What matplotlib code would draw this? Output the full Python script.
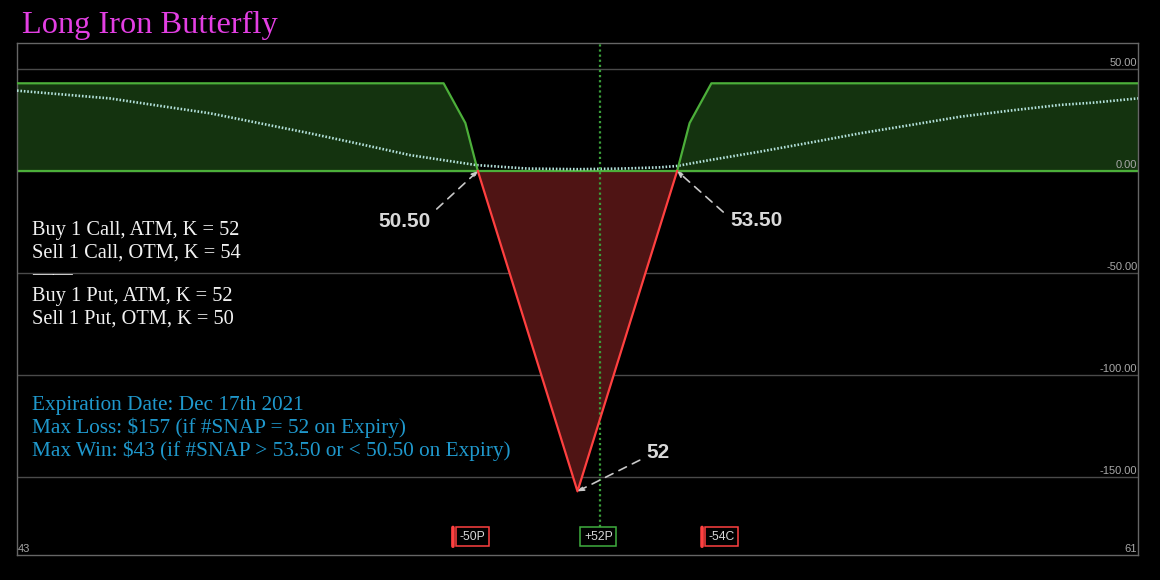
import numpy as np
import matplotlib
matplotlib.use("Agg")
import matplotlib.pyplot as plt

# ---------------- data ----------------
price = np.array([43.0, 49.85, 50.2, 50.4, 52.0, 53.6, 53.8, 54.15, 61.0])
pnl = np.array([43.0, 43.0, 23.5, 0.0, -157.0, 0.0, 23.5, 43.0, 43.0])

tv_price = np.array([43.0, 44.49, 45.30, 46.10, 46.90, 47.70, 48.51, 49.31, 50.38,
                     51.2, 52.0, 52.7, 53.32, 53.59, 54.13, 54.93, 55.73, 56.54,
                     57.34, 58.14, 58.94, 59.75, 60.28, 61.0])
tv_pnl = np.array([39.4, 35.6, 31.9, 28.3, 23.4, 18.5, 13.2, 7.8, 2.9,
                   1.2, 0.9, 1.2, 1.8, 2.45, 5.4, 9.5, 13.9, 18.5,
                   22.5, 26.6, 29.6, 32.4, 33.5, 35.6])

spot = 52.36
yticks = [50, 0, -50, -100, -150]
ytick_labels = ["50.00", "0.00", "-50.00", "-100.00", "-150.00"]
x_min_label, x_max_label = "43", "61"

legs_strike = [50, 52, 54]
legs_label = ["-50P", "+52P", "-54C"]
legs_side = ["short", "long", "short"]

be_labels = ["50.50", "53.50", "52"]

title = "Long Iron Butterfly"
legs_text = ["Buy 1 Call, ATM, K = 52",
             "Sell 1 Call, OTM, K = 54",
             "\u2014\u2014",
             "Buy 1 Put, ATM, K = 52",
             "Sell 1 Put, OTM, K = 50"]
info_text = ["Expiration Date: Dec 17th 2021",
             "Max Loss: $157 (if #SNAP = 52 on Expiry)",
             "Max Win: $43 (if #SNAP > 53.50 or < 50.50 on Expiry)"]

# ---------------- style ----------------
W, H = 1160, 580
GREEN = "#4caf3a"
GREEN_FILL = "#14330f"
RED = "#ff4040"
RED_FILL = "#4f1414"
DOT = "#b4e2dc"
GRID = "#4a4a4a"
FRAME = "#666666"
SERIF = ["Liberation Serif", "DejaVu Serif"]
SANS = ["Liberation Sans", "DejaVu Sans"]

fig = plt.figure(figsize=(W / 100, H / 100), dpi=100, facecolor="black")
ax = fig.add_axes([17 / W, 25 / H, 1121 / W, 512 / H])
ax.set_facecolor("black")
ax.set_xlim(43, 61)
ax.set_ylim(-188.2, 62.75)
for sp in ax.spines.values():
    sp.set_color(FRAME)
    sp.set_linewidth(1.0)
ax.set_xticks([])
ax.set_yticks(yticks)
ax.tick_params(axis="y", length=0, labelleft=False)
ax.grid(axis="y", color=GRID, lw=1.0, zorder=0.5)
ax.set_axisbelow(True)

# y labels inside, right aligned, above grid line
for v, lab in zip(yticks, ytick_labels):
    ax.text(0.9995, v + 0.6, lab, transform=ax.get_yaxis_transform(),
            ha="right", va="bottom", fontsize=8, color="#a8a8a8", family=SANS)
ax.text(43.02, -187.5, x_min_label, ha="left", va="bottom", fontsize=8,
        color="#a8a8a8", family=SANS)
ax.text(60.98, -187.5, x_max_label, ha="right", va="bottom", fontsize=8,
        color="#a8a8a8", family=SANS)

# fills
ax.fill_between(price, pnl, 0, where=pnl >= 0, interpolate=True,
                color=GREEN_FILL, lw=0, zorder=1)
ax.fill_between(price, pnl, 0, where=pnl <= 0, interpolate=True,
                color=RED_FILL, lw=0, zorder=1)
ax.axhline(0, color=GREEN, lw=1.6, zorder=2)

# theoretical value curve
ax.plot(tv_price, tv_pnl, color=DOT, lw=1.9, ls=(0, (0.6, 0.7)), zorder=3)

# payoff line
ax.plot(price, np.ma.masked_where(pnl < 0, pnl), color=GREEN, lw=1.6, zorder=4)
ax.plot(price, np.ma.masked_where(pnl > 0, pnl), color=RED, lw=1.6, zorder=4)

# spot line
ax.axvline(spot, ymin=0.0547, ymax=1, color="#3a9e3a", lw=1.6,
           ls=(0, (1, 1.3)), zorder=3)

# leg boxes
box_y = -179.3
for s, lab, side in zip(legs_strike, legs_label, legs_side):
    c = RED if side == "short" else "#3fae3f"
    fs = 8.7
    ax.annotate(lab, xy=(s, box_y), xytext=(0.3 * fs + 2.0, 0), textcoords="offset points",
                ha="left", va="center", fontsize=fs, color="#d8d8d8", family=SANS,
                bbox=dict(boxstyle="square,pad=0.3", fc="black", ec=c, lw=1.1),
                zorder=6)
    if side == "short":
        ax.annotate("", xy=(s, box_y - 4.6), xytext=(s, box_y + 4.6),
                    arrowprops=dict(arrowstyle="-", color=c, lw=2.6,
                                    shrinkA=0, shrinkB=0), zorder=7)

# breakeven / max-loss annotations
arrow_kw = dict(arrowstyle="-|>,head_length=0.35,head_width=0.15", color="#c8c8c8",
                lw=1.2, linestyle=(0, (5, 4)), shrinkA=0, shrinkB=0)
ann_font = dict(fontsize=15, fontweight="bold", color="#d9d9d9", family=SANS, zorder=8)
ax.annotate("", xy=(price[3], pnl[3]), xytext=(49.74, -18.6), arrowprops=arrow_kw, zorder=8)
ax.text(49.65, -24.5, be_labels[0], ha="right", va="center", **ann_font)
ax.annotate("", xy=(price[5], pnl[5]), xytext=(54.34, -20.1), arrowprops=arrow_kw, zorder=8)
ax.text(54.46, -24.3, be_labels[1], ha="left", va="center", **ann_font)
ax.annotate("", xy=(price[4], pnl[4]), xytext=(53.0, -141.7), arrowprops=arrow_kw, zorder=8)
ax.text(53.10, -138.2, be_labels[2], ha="left", va="center", **ann_font)

# texts
fig.text(22 / W, 1 - 33 / H, title, ha="left", va="baseline", fontsize=23.3,
         color="#e33fe3", family=SERIF)
for i, line in enumerate(legs_text):
    fig.text(32 / W, 1 - (235.5 + 22 * i) / H, line, ha="left", va="baseline",
             fontsize=14.7, color="#f2f2f2", family=SERIF)
for i, line in enumerate(info_text):
    fig.text(31.5 / W, 1 - (410.3 + 23 * i) / H, line, ha="left", va="baseline",
             fontsize=15.3, color="#1f98cc", family=SERIF)

fig.savefig("out.png", dpi=100, facecolor="black")
